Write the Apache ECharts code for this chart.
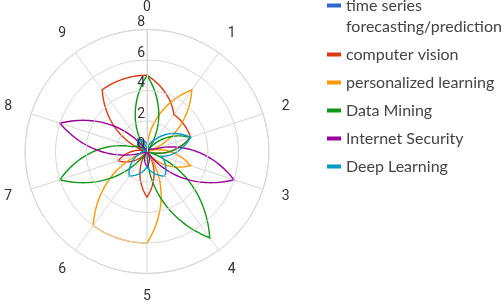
<!DOCTYPE html>
<html>
<head>
<meta charset="utf-8">
<script src="https://cdn.jsdelivr.net/npm/echarts@6/dist/echarts.min.js"></script>
<style>
html,body{margin:0;padding:0;background:#fff;}
#chart{width:502px;height:308px;}
</style>
</head>
<body>
<div id="chart"></div>
<script>
// ---- data ----
const categories = ['0', '1', '2', '3', '4', '5', '6', '7', '8', '9'];
const radiusTicks = [0, 2, 4, 6, 8];
const seriesNames = [
  'time series forecasting/prediction',
  'computer vision',
  'personalized learning',
  'Data Mining',
  'Internet Security',
  'Deep Learning'
];
const legendLabels = [
  '\ntime series\nforecasting/prediction',
  'computer vision',
  'personalized learning',
  'Data Mining',
  'Internet Security',
  'Deep Learning'
];
const timeSeriesForecasting = [0.5, 0, 0, 0, 0, 0, 0, 0, 0.5, 1];
const computerVision        = [5, 3, 3, 0, 0, 3, 0, 2, 0, 5];
const personalizedLearning  = [0, 5, 0, 3, 0, 6, 6, 0, 0, 0];
const dataMining            = [5, 0, 3, 0, 7, 0, 0, 6, 1, 0];
const internetSecurity      = [0, 0, 0.5, 6, 0, 1, 0, 0, 6, 0];
const deepLearning          = [0, 1, 3, 1, 2, 1, 2, 0.5, 0, 1];
const colors = ['#3366cc', '#dc3912', '#ff9900', '#109618', '#990099', '#0099c6'];

const allValues = [timeSeriesForecasting, computerVision, personalizedLearning,
                   dataMining, internetSecurity, deepLearning];

// polar line interpolated in (angle, radius) space through the axes
function makeRender(values) {
  return function (params, api) {
    if (params.dataIndex !== 0) return { type: 'group', children: [] };
    const n = values.length, steps = 36, pts = [];
    for (let i = 0; i < n; i++) {
      const r0 = values[i], r1 = values[(i + 1) % n];
      for (let s = 0; s < steps; s++) {
        const t = s / steps;
        pts.push(api.coord([r0 + (r1 - r0) * t, i + t]));
      }
    }
    pts.push(pts[0]);
    return {
      type: 'polyline',
      shape: { points: pts },
      style: { stroke: api.visual('color'), fill: null, lineWidth: 1.4 }
    };
  };
}

const chart = echarts.init(document.getElementById('chart'), null, { renderer: 'canvas' });
const gridColor = '#d6d6d6';
const labelFont = { fontFamily: 'Roboto', fontSize: 14, color: '#333' };
chart.setOption({
  animation: false,
  color: colors,
  polar: { center: [147, 151.5], radius: 122 },
  angleAxis: {
    type: 'value',
    min: 0,
    max: categories.length,
    interval: 1,
    startAngle: 90,
    clockwise: true,
    axisLine: { show: true, lineStyle: { color: gridColor } },
    axisTick: { show: false },
    splitLine: { show: true, lineStyle: { color: gridColor } },
    axisLabel: {
      margin: 15.5,
      fontFamily: 'Roboto',
      fontSize: 14,
      color: '#333',
      formatter: function (v) {
        if (v >= categories.length) return '';
        const lab = categories[v];
        if (v === 2 || v === 3) return '{r|' + lab + '}';
        if (v === 7 || v === 8) return '{l|' + lab + '}';
        return '{n|' + lab + '}';
      },
      rich: {
        n: Object.assign({}, labelFont),
        r: Object.assign({ lineHeight: 4.6, padding: [0, 0, 0, 4] }, labelFont),
        l: Object.assign({ lineHeight: 4.6, padding: [0, 4, 0, 0] }, labelFont)
      }
    }
  },
  radiusAxis: {
    type: 'value',
    min: radiusTicks[0],
    max: radiusTicks[radiusTicks.length - 1],
    interval: radiusTicks[1] - radiusTicks[0],
    z: 10,
    axisLine: { show: true, lineStyle: { color: gridColor } },
    axisTick: { show: false },
    splitLine: { show: true, lineStyle: { color: gridColor } },
    axisLabel: {
      margin: 2,
      fontFamily: 'Roboto',
      fontSize: 14,
      color: '#333',
      verticalAlign: 'bottom'
    }
  },
  legend: {
    orient: 'vertical',
    left: 327,
    top: -26,
    padding: 0,
    itemWidth: 14,
    itemHeight: 4,
    itemGap: 7,
    icon: 'rect',
    data: seriesNames,
    formatter: function (name) { return legendLabels[seriesNames.indexOf(name)]; },
    textStyle: { fontFamily: 'Lato', fontSize: 16, color: '#444', lineHeight: 21 }
  },
  series: seriesNames.map(function (name, k) {
    return {
      type: 'custom',
      name: name,
      coordinateSystem: 'polar',
      itemStyle: { color: colors[k] },
      encode: { radius: 0, angle: 1 },
      data: allValues[k].map(function (v, i) { return [v, i]; }),
      renderItem: makeRender(allValues[k])
    };
  })
});
</script>
</body>
</html>
